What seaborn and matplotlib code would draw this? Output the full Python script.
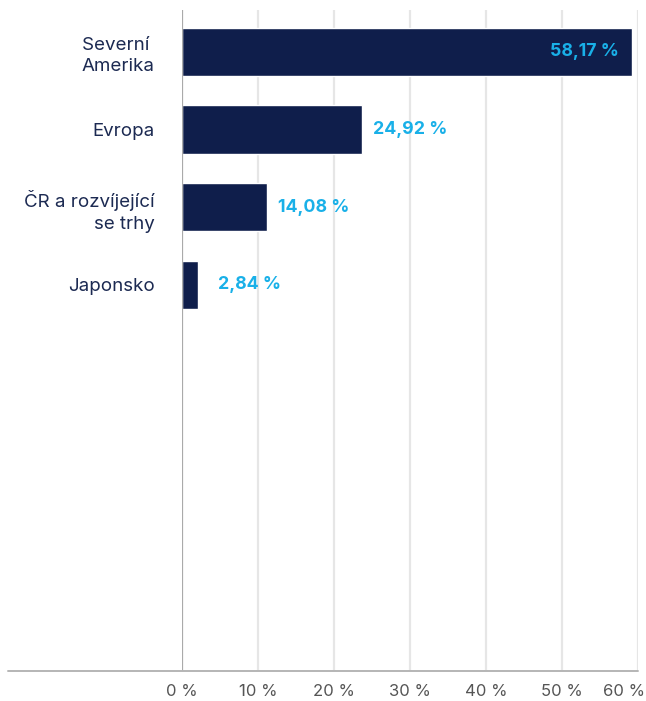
import matplotlib
matplotlib.use("Agg")
import matplotlib.pyplot as plt
import matplotlib.transforms as mtransforms
import seaborn as sns
import pandas as pd

categories = ["Severní \nAmerika", "Evropa", "ČR a rozvíjející\nse trhy", "Japonsko"]
bar_values = [59.2, 23.7, 11.2, 2.1]
value_labels = ["58,17 %", "24,92 %", "14,08 %", "2,84 %"]
x_ticks = [0, 10, 20, 30, 40, 50, 60]
x_tick_labels = ["0 %", "10 %", "20 %", "30 %", "40 %", "50 %", "60 %"]

sns.set_theme(style="white")
plt.rcParams["font.family"] = ["Inter", "DejaVu Sans"]

NAVY = "#0f1e4b"
CYAN = "#19b0e8"

df = pd.DataFrame({"cat": categories, "val": bar_values})

fig = plt.figure(figsize=(6.46, 7.01), dpi=100)
ax = fig.add_axes([182/646, 1 - 671/701, (638-182)/646, (671-10)/701])

sns.barplot(data=df, x="val", y="cat", orient="h", color=NAVY, width=0.62,
            saturation=1, ax=ax, zorder=3)

ax.set_xlim(0, 60)
ax.set_ylim(7.98, -0.54)
ax.set_xlabel("")
ax.set_ylabel("")

for s in ax.spines.values():
    s.set_visible(False)

ax.set_xticks(x_ticks)
ax.set_xticklabels(x_tick_labels)
ax.tick_params(axis="x", length=0, pad=9.5, labelsize=12, labelcolor="#555555")
ax.tick_params(axis="y", length=0, pad=19.5, labelsize=13.5, labelcolor="#1c2a52")
for lbl in ax.get_yticklabels():
    lbl.set_multialignment("right")
    lbl.set_linespacing(1.35)

last = ax.get_xticklabels()[-1]
last.set_ha("right")
last.set_transform(last.get_transform() + mtransforms.ScaledTranslation(7/100, 0, fig.dpi_scale_trans))

# gridlines
for t in x_ticks[1:]:
    ax.axvline(t, color="#e6e6e6", lw=1.6, zorder=1)
# vertical axis at 0
ax.axvline(0, color="#aaaaaa", lw=1.6, zorder=4)
# bottom horizontal line extending left
ax.plot([(8-182)/456, 1.0], [0, 0], transform=ax.transAxes, color="#b5b5b5",
        lw=1.4, clip_on=False, zorder=4)

offsets = [-13, 11, 11, 20]
for i, (v, lab, off) in enumerate(zip(bar_values, value_labels, offsets)):
    ax.annotate(lab, (v, i), xytext=(off, 0), textcoords="offset pixels",
                ha="right" if off < 0 else "left", va="center", color=CYAN,
                fontsize=12.8, fontweight="bold", zorder=5)

fig.savefig("out.png", dpi=100)
